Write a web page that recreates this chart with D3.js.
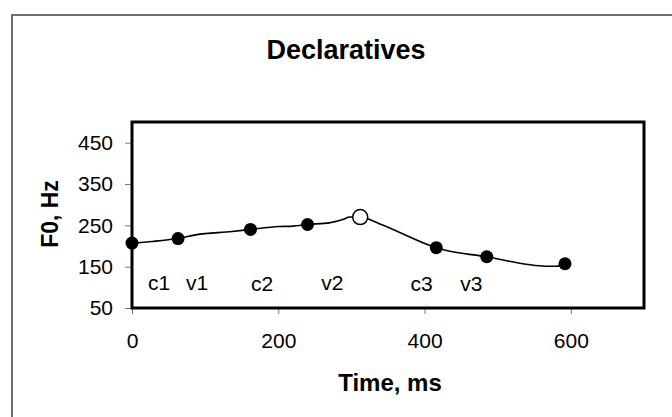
<!DOCTYPE html>
<html>
<head>
<meta charset="utf-8">
<script src="https://cdn.jsdelivr.net/npm/d3@7"></script>
<style>
  html, body { margin: 0; padding: 0; background: #fff; }
  svg { display: block; font-family: "Liberation Sans", Arial, sans-serif; }
</style>
</head>
<body>
<svg id="chart" width="672" height="417"></svg>
<script>
// ---- data ----
const title = "Declaratives";
const xTitle = "Time, ms";
const yTitle = "F0, Hz";
const xTicks = [0, 200, 400, 600];
const yTicks = [50, 150, 250, 350, 450];
// F0 contour (time ms, Hz)
const contourTime = [0, 28, 62, 87, 137, 162, 201, 220, 240, 270, 288, 298, 312, 338, 416, 430, 485, 539, 565, 580, 592];
const contourF0   = [207, 211, 218, 227, 235, 240, 247, 248, 252, 256, 264, 270, 270, 254, 196, 189, 174, 156, 151, 151, 157];
// filled markers
const markTime = [0, 63, 162, 240, 416, 485, 592];
const markF0   = [207, 218, 240, 252, 196, 174, 157];
// open marker (peak)
const peakTime = [312];
const peakF0   = [270];
// segment labels
const segLabels = ["c1", "v1", "c2", "v2", "c3", "v3"];
const segTime   = [37, 89, 178, 274, 396, 464];
const segF0     = [112, 112, 110, 112, 110, 110];

// ---- layout ----
const svg = d3.select("#chart");
const plot = { left: 132, top: 122, right: 644, bottom: 308 };
const x = d3.scaleLinear().domain([0, 700]).range([plot.left, plot.right]);
const y = d3.scaleLinear().domain([50, 500]).range([plot.bottom, plot.top]);

// outer frame
svg.append("rect").attr("x", 12).attr("y", 15).attr("width", 700).attr("height", 450)
  .attr("fill", "none").attr("stroke", "#404040").attr("stroke-width", 1.5);

// title
svg.append("text").attr("x", 346).attr("y", 59).attr("text-anchor", "middle")
  .attr("font-size", 27).attr("font-weight", "bold").text(title);

// axes
const xAxis = svg.append("g").attr("transform", `translate(0,${plot.bottom})`)
  .call(d3.axisBottom(x).tickValues(xTicks).tickSize(6).tickPadding(19).tickFormat(d3.format("d")));
const yAxis = svg.append("g").attr("transform", `translate(${plot.left},0)`)
  .call(d3.axisLeft(y).tickValues(yTicks).tickSize(7).tickPadding(12).tickFormat(d3.format("d")));
[xAxis, yAxis].forEach(g => {
  g.select(".domain").remove();
  g.selectAll(".tick line").attr("stroke", "#777").attr("stroke-width", 1);
  g.selectAll(".tick text").attr("font-size", 21).attr("fill", "#000")
    .attr("font-family", "'Liberation Sans', Arial, sans-serif");
});

// plot border
svg.append("rect").attr("x", plot.left).attr("y", plot.top)
  .attr("width", plot.right - plot.left).attr("height", plot.bottom - plot.top)
  .attr("fill", "none").attr("stroke", "#000").attr("stroke-width", 3);

// axis titles
svg.append("text").attr("x", 390).attr("y", 391).attr("text-anchor", "middle")
  .attr("font-size", 24).attr("font-weight", "bold").text(xTitle);
svg.append("text").attr("transform", "translate(58,214) rotate(-90)").attr("text-anchor", "middle")
  .attr("font-size", 23).attr("font-weight", "bold").text(yTitle);

// contour
const contour = contourTime.map((t, i) => [t, contourF0[i]]);
svg.append("path").datum(contour)
  .attr("fill", "none").attr("stroke", "#000").attr("stroke-width", 1.6)
  .attr("d", d3.line().x(d => x(d[0])).y(d => y(d[1])).curve(d3.curveMonotoneX));

// filled markers
svg.append("g").selectAll("circle").data(markTime.map((t, i) => [t, markF0[i]])).join("circle")
  .attr("cx", d => x(d[0])).attr("cy", d => y(d[1])).attr("r", 6.5).attr("fill", "#000");

// open marker
svg.append("g").selectAll("circle").data(peakTime.map((t, i) => [t, peakF0[i]])).join("circle")
  .attr("cx", d => x(d[0])).attr("cy", d => y(d[1])).attr("r", 7.5)
  .attr("fill", "#fff").attr("stroke", "#000").attr("stroke-width", 1.5);

// segment labels
svg.append("g").selectAll("text").data(segLabels).join("text")
  .attr("x", (d, i) => x(segTime[i])).attr("y", (d, i) => y(segF0[i]))
  .attr("dy", "0.35em").attr("text-anchor", "middle").attr("font-size", 21).text(d => d);
</script>
</body>
</html>
